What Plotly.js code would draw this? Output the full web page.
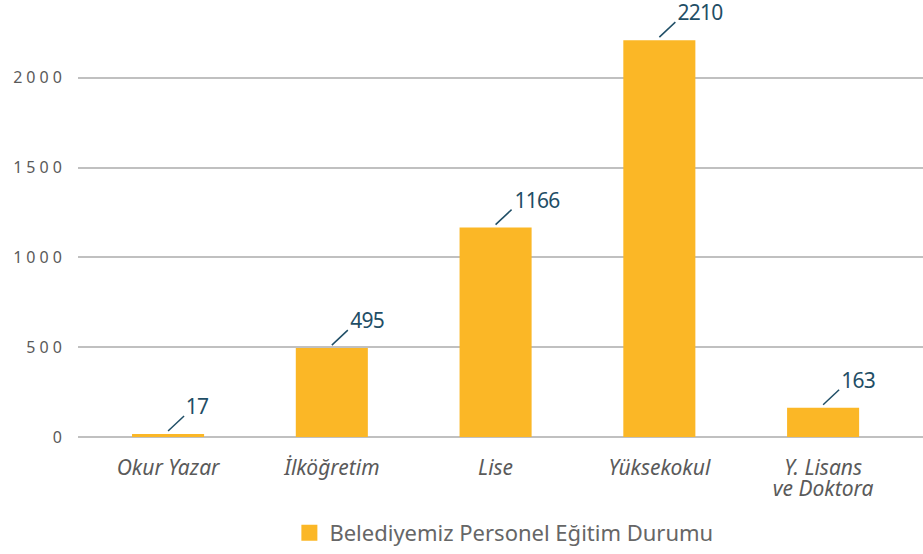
<!DOCTYPE html>
<html>
<head>
<meta charset="utf-8">
<script src="https://cdn.plot.ly/plotly-3.0.1.min.js"></script>
<style>
html,body{margin:0;padding:0;background:#fff;}
#chart{width:923px;height:554px;}
#chart .ytick text{letter-spacing:4px;}
#chart .annotation-text{letter-spacing:-0.8px;}
</style>
</head>
<body>
<div id="chart"></div>
<script>
const categories = ["Okur Yazar", "İlköğretim", "Lise", "Yüksekokul", "Y. Lisans<br>ve Doktora"];
const values = [17, 495, 1166, 2210, 163];
const seriesName = "Belediyemiz Personel Eğitim Durumu";
const yTicks = [0, 500, 1000, 1500, 2000];

const barColor = "#FBB726";
const labelColor = "#1F4E66";
const fontFam = "'Noto Sans', 'Open Sans', sans-serif";

const traces = [
  {
    type: "bar",
    x: categories,
    y: values,
    marker: {color: barColor},
    showlegend: false,
    hoverinfo: "skip",
    cliponaxis: false
  },
  {
    type: "scatter",
    mode: "markers",
    x: [null],
    y: [null],
    name: seriesName,
    marker: {symbol: "square", size: 20, color: barColor},
    showlegend: true
  }
];

// leader lines, anchored at each bar top, sized in pixels
const shapes = categories.map((c, i) => ({
  type: "line",
  xref: "x",
  yref: "y",
  xsizemode: "pixel",
  ysizemode: "pixel",
  xanchor: c,
  yanchor: values[i],
  x0: 0, x1: 16,
  y0: 3, y1: 18,
  line: {color: labelColor, width: 1.5}
}));

const annotations = categories.map((c, i) => ({
  x: c,
  y: values[i],
  xref: "x",
  yref: "y",
  text: String(values[i]),
  showarrow: false,
  xanchor: "left",
  yanchor: "bottom",
  xshift: 16,
  yshift: 13,
  borderpad: 0,
  font: {family: fontFam, size: 21, color: labelColor}
}));

const layout = {
  width: 923,
  height: 554,
  margin: {l: 78, r: 0, t: 10, b: 116},
  paper_bgcolor: "#fff",
  plot_bgcolor: "#fff",
  font: {family: fontFam, color: "#555"},
  bargap: 0.56,
  xaxis: {
    type: "category",
    range: [-0.55, 4.61],
    showgrid: false,
    showline: false,
    zeroline: false,
    ticks: "outside",
    ticklen: 12,
    tickcolor: "rgba(0,0,0,0)",
    tickfont: {family: fontFam, size: 21, color: "#5a5a5a", style: "italic"},
    fixedrange: true
  },
  yaxis: {
    range: [0, 2377.8],
    tickvals: yTicks,
    ticktext: yTicks.map(String),
    showgrid: true,
    gridcolor: "#C0C0C0",
    gridwidth: 2,
    zeroline: true,
    zerolinecolor: "#C0C0C0",
    zerolinewidth: 2,
    showline: false,
    ticks: "outside",
    ticklen: 8,
    tickcolor: "rgba(0,0,0,0)",
    tickfont: {family: fontFam, size: 16, color: "#5a5a5a"},
    fixedrange: true
  },
  legend: {
    orientation: "h",
    x: 0.504,
    xanchor: "center",
    y: -0.224,
    yanchor: "middle",
    font: {family: fontFam, size: 22, color: "#666"},
    itemwidth: 30
  },
  shapes: shapes,
  annotations: annotations
};

Plotly.newPlot("chart", traces, layout, {displayModeBar: false, staticPlot: true}).then(gd => {
  // tighter leading for the two-line category label, as in the reference
  gd.querySelectorAll(".xtick text tspan.line").forEach(t => {
    if (t.previousElementSibling && t.previousElementSibling.classList.contains("line")) {
      t.setAttribute("dy", "1.0em");
    }
  });
});
</script>
</body>
</html>
